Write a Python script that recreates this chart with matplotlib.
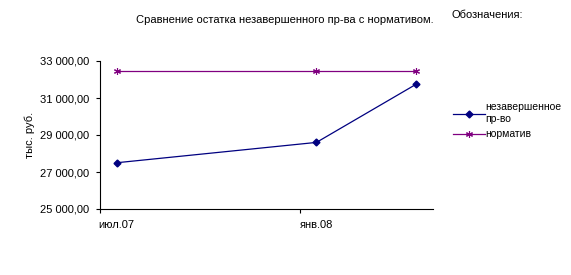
import matplotlib
matplotlib.use('Agg')
import matplotlib.pyplot as plt

# Data (months counted from июл.07)
month_idx = [0, 6, 9]
tick_labels = ['июл.07', 'янв.08']
wip = [27500, 28600, 31750]          # незавершенное пр-во
norm = [32450, 32450, 32450]         # норматив
y_ticks = [25000, 27000, 29000, 31000, 33000]

plt.rcParams['font.family'] = ['Liberation Sans', 'DejaVu Sans']
plt.rcParams['font.size'] = 8

fig = plt.figure(figsize=(5.71, 2.75), dpi=100)
ax = fig.add_axes([100 / 571, 1 - 209 / 275, 333 / 571, 148 / 275])

x = [m + 0.5 for m in month_idx]
ax.plot(x, wip, color='#000080', lw=0.9, marker='D', ms=3.5, label='незавершенное\nпр-во')
ax.plot(x, norm, color='#800080', lw=0.9, marker=(6, 2, 0), ms=5, mew=0.8, label='норматив')

ax.set_xlim(0, 10)
ax.set_ylim(25000, 33000)
ax.set_yticks(y_ticks)
ax.set_yticklabels([f'{v:,.2f}'.replace(',', ' ').replace('.', ',') for v in y_ticks])

ax.set_xticks([0, 6])
ax.set_xticklabels([])
ax.set_xticks([0.5, 6.5], minor=True)
ax.set_xticklabels(tick_labels, minor=True)
ax.tick_params(axis='x', which='minor', length=0, pad=8)
ax.tick_params(axis='both', which='major', length=3, width=0.8, direction='out')
ax.tick_params(axis='y', pad=5)

for s in ['top', 'right']:
    ax.spines[s].set_visible(False)
for s in ['left', 'bottom']:
    ax.spines[s].set_linewidth(0.8)

ax.set_ylabel('тыс. руб.', labelpad=3)

fig.text(285 / 571, 1 - 20 / 275, 'Сравнение остатка незавершенного пр-ва с нормативом.',
         ha='center', va='center', fontsize=8)
fig.text(452 / 571, 1 - 15 / 275, 'Обозначения:', ha='left', va='center', fontsize=8)

leg = fig.legend(loc='upper left', bbox_to_anchor=(444 / 571, 1 - 93 / 275),
                 frameon=False, handlelength=3.0, handletextpad=0.1,
                 labelspacing=0.5, fontsize=7.5)

fig.savefig('out.png', dpi=100, facecolor='white')
